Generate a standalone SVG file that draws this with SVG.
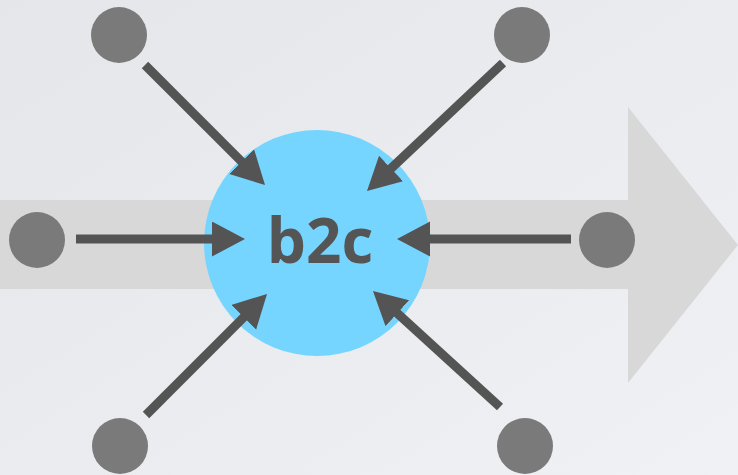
<svg xmlns="http://www.w3.org/2000/svg" width="738" height="475" viewBox="0 0 738 475">
<defs>
<linearGradient id="bg" x1="0" y1="0" x2="1" y2="1">
<stop offset="0" stop-color="#e5e6e9"/>
<stop offset="1" stop-color="#f0f1f4"/>
</linearGradient>
<marker id="ah" markerUnits="userSpaceOnUse" markerWidth="40" markerHeight="40" refX="1" refY="17.5" orient="auto">
<path d="M0,0 L33,17.5 L0,35 Z" fill="#545454"/>
</marker>
<style>
.dot{fill:#7a7a7a}
.conn line{stroke:#545454;stroke-width:9;marker-end:url(#ah)}
.lbl{font-family:"Open Sans","Liberation Sans",sans-serif;font-weight:bold;font-size:62px;fill:#555555;text-anchor:middle}
</style>
</defs>
<rect width="738" height="475" fill="url(#bg)"/>
<polygon id="flow" points="0,200 628,200 628,107 738,245 628,383 628,289 0,289" fill="#d8d8d8"/>
<g id="center">
<circle cx="317" cy="243" r="113" fill="#76d5fe"/>
<text class="lbl" x="320" y="263">b2c</text>
</g>
<g id="n1"><circle class="dot" cx="119" cy="35" r="28"/></g>
<g id="n2"><circle class="dot" cx="522" cy="35" r="28"/></g>
<g id="n3"><circle class="dot" cx="37" cy="240" r="28"/></g>
<g id="n4"><circle class="dot" cx="607" cy="240" r="28"/></g>
<g id="n5"><circle class="dot" cx="120" cy="446" r="28"/></g>
<g id="n6"><circle class="dot" cx="525" cy="446" r="28"/></g>
<g class="conn" id="connectors">
<line x1="145" y1="65" x2="242.4" y2="162.4"/>
<line x1="503" y1="63" x2="390.3" y2="169.1"/>
<line x1="76" y1="239" x2="213" y2="239"/>
<line x1="571" y1="239" x2="429" y2="239"/>
<line x1="146" y1="415" x2="244.4" y2="316.6"/>
<line x1="500" y1="407" x2="396.6" y2="312.6"/>
</g>
</svg>
